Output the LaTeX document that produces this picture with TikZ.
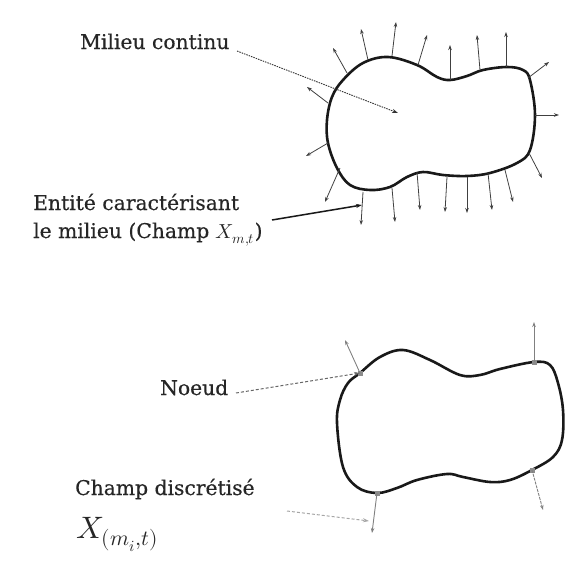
\documentclass[tikz,border=0pt]{standalone}
\usepackage{fontspec}
\usepackage{unicode-math}
\setmainfont{DejaVu Serif}[FakeBold=0.4]
\setmathfont{Latin Modern Math}
\usetikzlibrary{arrows.meta}
\tikzset{
  blob/.style={line width=2.6pt, black!90, line join=round},
  vec/.style={line width=0.8pt, black!75, -{Stealth[length=5pt,width=3.5pt]}},
  gvec/.style={line width=0.9pt, black!50, -{Stealth[length=5pt,width=3.5pt]}},
  lab/.style={anchor=base west, inner sep=0pt, font=\fontsize{20.3}{24}\selectfont, text=black!85},
  pointer/.style={line width=1pt, black!60, dashed, dash pattern=on 3pt off 2pt, -{Stealth[length=6pt,width=4pt]}},
  thickpointer/.style={line width=1.5pt, black!90, -{Stealth[length=6pt,width=4pt]}},
  noeudmark/.style={fill=black!45, draw=none, minimum size=5pt, inner sep=0pt},
}
\begin{document}
\begin{tikzpicture}[x=1pt,y=-1pt]
\useasboundingbox (0,0) rectangle (579,570);
% ---------- top figure ----------
\draw[blob] plot[smooth cycle, tension=0.6] coordinates {
 (388,57) (417,65) (437,77) (450,80) (467,76) (483,70) (507,67) (523,70) (530,80)
 (535,115) (530,150) (517,163) (490,173) (467,176) (443,175) (423,172) (407,177)
 (390,187) (370,190) (350,185) (337,168) (328,143) (327,120) (332,97) (343,80) (363,63)};
\foreach \i/\ax/\ay/\bx/\by in {
 1/347/73/333/48, 2/368/60/361/29, 3/392/56/396/22, 4/418/65/427/35,
 5/450/80/450/45, 6/480/70/477/35, 7/506/67/506/32, 8/528/78/549/62,
 9/535/115/559/115, 10/529/153/542/178, 11/505/170/513/202, 12/488/173/492/210,
 13/467/177/467/213, 14/447/177/445/212, 15/417/172/420/210, 16/392/188/395/222,
 17/363/192/361/225, 18/340/168/325/202, 19/328/143/306/156, 20/328/103/307/87}{
  \coordinate (s\i) at (\ax,\ay);
  \coordinate (e\i) at (\bx,\by);
  \draw[vec] (s\i) -- (e\i);
}
\node[lab] (milieu) at (80,49) {Milieu continu};
\coordinate (milieustart) at (237,51);
\coordinate (milieuend) at (398,113);
\draw[pointer, black!80, line width=0.9pt, dash pattern=on 1.5pt off 1pt] (milieustart) -- (milieuend);
\node[lab] (entite) at (33,210) {Entité caractérisant};
\node[lab] (champ) at (33,238) {le milieu (Champ $X_{m,t}$)};
\coordinate (entstart) at (272,220);
\coordinate (entend) at (362,205);
\draw[thickpointer] (entstart) -- (entend);
% ---------- bottom figure ----------
\draw[blob] plot[smooth cycle, tension=0.6] coordinates {
 (360,373) (380,357) (403,350) (430,360) (460,375) (480,375) (500,369) (534,362) (550,365)
 (558,383) (563,410) (562,440) (553,457) (532,470) (510,480) (490,482) (463,477)
 (447,474) (417,480) (397,488) (377,493) (357,487) (343,467) (337,423) (340,400) (348,383)};
\node[noeudmark] (n1) at (360,373) {};
\node[noeudmark] (n2) at (534,362) {};
\node[noeudmark] (n3) at (532,470) {};
\node[noeudmark] (n4) at (377,493) {};
\coordinate (t1) at (345,340);
\coordinate (t2) at (534,322);
\coordinate (t3) at (543,510);
\coordinate (t4) at (372,533);
\draw[gvec] (n1.center) -- (t1);
\draw[gvec] (n2.center) -- (t2);
\draw[gvec, dashed, dash pattern=on 3pt off 1pt] (n3.center) -- (t3);
\draw[gvec] (n4.center) -- (t4);
\node[lab] (noeud) at (160,395) {Noeud};
\coordinate (noeudstart) at (236,393);
\draw[pointer] (noeudstart) -- (n1.center);
\node[lab] (discr) at (75,495) {Champ discrétisé};
\node[lab, font=\fontsize{31}{35}\selectfont] (xmi) at (76,538) {$X_{(m_i,t)}$};
\coordinate (discrstart) at (287,511);
\coordinate (discrend) at (369,521);
\draw[pointer, black!35] (discrstart) -- (discrend);
\end{tikzpicture}
\end{document}
